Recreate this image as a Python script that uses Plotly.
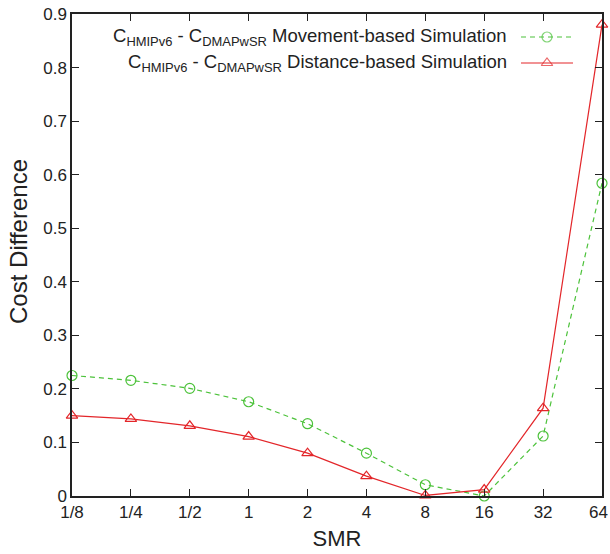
import plotly.graph_objects as go

smr_labels = ["1/8", "1/4", "1/2", "1", "2", "4", "8", "16", "32", "64"]
movement_based = [0.225, 0.216, 0.201, 0.176, 0.135, 0.080, 0.021, 0.000, 0.112, 0.584]
distance_based = [0.150, 0.144, 0.131, 0.111, 0.080, 0.037, 0.001, 0.012, 0.164, 0.880]
y_ticks = [0, 0.1, 0.2, 0.3, 0.4, 0.5, 0.6, 0.7, 0.8, 0.9]
y_tick_text = ["0", "0.1", "0.2", "0.3", "0.4", "0.5", "0.6", "0.7", "0.8", "0.9"]

name_mov = "C<sub>HMIPv6</sub> - C<sub>DMAPwSR</sub> Movement-based Simulation"
name_dist = "C<sub>HMIPv6</sub> - C<sub>DMAPwSR</sub> Distance-based Simulation"

GREEN = "#4cc23a"
RED = "#e3262a"
FONT = "Liberation Sans, Arial, sans-serif"
TXT = "#222"

fig = go.Figure()
fig.add_trace(go.Scatter(
    x=smr_labels, y=movement_based, mode="lines+markers", name=name_mov,
    line=dict(color=GREEN, width=1.2, dash="5px,4px"),
    marker=dict(symbol="circle-open", size=10, color=GREEN, line=dict(width=1.2)),
    showlegend=False, cliponaxis=False))
fig.add_trace(go.Scatter(
    x=smr_labels, y=distance_based, mode="lines+markers", name=name_dist,
    line=dict(color=RED, width=1.2),
    marker=dict(symbol="triangle-up-open", size=10, color=RED, line=dict(width=1.2)),
    showlegend=False, cliponaxis=False))

# legend samples drawn on an overlay axis in pixel-like units
L = dict(x0=521, x1=573, xm=547)
fig.add_trace(go.Scatter(
    x=[L["x0"], L["xm"], L["x1"]], y=[37, 37, 37], xaxis="x2", yaxis="y2",
    mode="lines+markers", line=dict(color=GREEN, width=1.2, dash="5px,4px"),
    marker=dict(symbol="circle-open", size=[0, 10, 0], color=GREEN, line=dict(width=1.2)),
    showlegend=False, hoverinfo="skip"))
fig.add_trace(go.Scatter(
    x=[L["x0"], L["xm"], L["x1"]], y=[63, 63, 63], xaxis="x2", yaxis="y2",
    mode="lines+markers", line=dict(color=RED, width=1.2),
    marker=dict(symbol="triangle-up-open", size=[0, 10, 0], color=RED, line=dict(width=1.2)),
    showlegend=False, hoverinfo="skip"))

for yv, txt in [(37, name_mov), (63, name_dist)]:
    fig.add_annotation(x=509, y=yv, xref="x2", yref="y2", text=txt, showarrow=False,
                       xanchor="right", yanchor="middle",
                       font=dict(family=FONT, size=18.5, color=TXT))

# last x tick label is shifted left so it stays inside the page (as in the reference)
x_tick_text = smr_labels[:-1] + [""]
fig.add_annotation(x=1, y=0, xref="paper", yref="paper", text=smr_labels[-1],
                   showarrow=False, xanchor="right", yanchor="top", xshift=8, yshift=-5,
                   font=dict(family=FONT, size=17, color=TXT))

# y-axis title
fig.add_annotation(x=-0.102, y=0.529, xref="paper", yref="paper", text="Cost Difference",
                   textangle=-90, showarrow=False, xanchor="center", yanchor="middle",
                   font=dict(family=FONT, size=24, color=TXT))

axis_common = dict(showline=True, linecolor=TXT, linewidth=1.5, mirror="ticks",
                   ticks="inside", ticklen=7, tickwidth=1.2, tickcolor=TXT,
                   showgrid=False, zeroline=False, automargin=False,
                   tickfont=dict(family=FONT, size=17, color=TXT))

fig.update_layout(
    width=610, height=554,
    margin=dict(l=72, r=8, t=14, b=58),
    paper_bgcolor="white", plot_bgcolor="white",
    font=dict(family=FONT, color=TXT),
    xaxis=dict(type="category", range=[0, 9], tickvals=smr_labels, ticktext=x_tick_text,
               title=dict(text="SMR", font=dict(size=22), standoff=9),
               **axis_common),
    yaxis=dict(range=[0, 0.9], tickvals=y_ticks, ticktext=y_tick_text, **axis_common),
    xaxis2=dict(overlaying="x", range=[72, 602], visible=False, anchor="y2"),
    yaxis2=dict(overlaying="y", range=[496, 14], visible=False, anchor="x2"),
)

fig.write_html("out.html", config={"displayModeBar": False},
               post_script="document.body.style.margin='0';document.body.style.overflow='hidden';")
